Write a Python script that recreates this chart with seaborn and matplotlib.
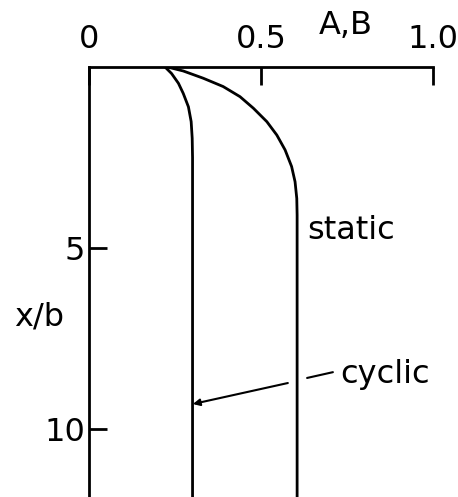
import matplotlib
matplotlib.use("Agg")
import matplotlib.pyplot as plt
import seaborn as sns
import pandas as pd

# Depth profiles of the coefficients A, B against normalised depth x/b
cyclic_depth = [0.0, 0.18, 0.45, 0.73, 1.10, 1.51, 1.97, 2.5, 12.0]
cyclic_ab = [0.221, 0.240, 0.260, 0.274, 0.289, 0.297, 0.300, 0.301, 0.301]

static_depth = [0.0, 0.11, 0.31, 0.54, 0.82, 1.14, 1.51, 1.88, 2.29, 2.75,
                3.17, 3.63, 4.09, 12.0]
static_ab = [0.228, 0.274, 0.332, 0.390, 0.439, 0.478, 0.517, 0.546, 0.570,
             0.589, 0.599, 0.604, 0.605, 0.605]

x_ticks = [0, 0.5, 1.0]
x_tick_labels = ["0", "0.5", "1.0"]
y_ticks = [5, 10]
y_tick_labels = ["5", "10"]

sns.set_theme(style="white")
plt.rcParams["font.family"] = ["DejaVu Sans"]
plt.rcParams["text.color"] = "black"

fig = plt.figure(figsize=(4.58, 4.97), dpi=100)
ax = fig.add_axes([89 / 458, 0.0, 344 / 458, 1 - 67 / 497])

df_c = pd.DataFrame({"ab": cyclic_ab, "depth": cyclic_depth})
df_s = pd.DataFrame({"ab": static_ab, "depth": static_depth})
sns.lineplot(data=df_c, x="ab", y="depth", sort=False, estimator=None,
             color="black", linewidth=2.0, ax=ax)
sns.lineplot(data=df_s, x="ab", y="depth", sort=False, estimator=None,
             color="black", linewidth=2.0, ax=ax)

ax.set_xlim(0, 1.0)
ax.set_ylim((497 - 67) / 36.2, 0)

for side in ("right", "bottom"):
    ax.spines[side].set_visible(False)
for side in ("top", "left"):
    ax.spines[side].set_color("black")
    ax.spines[side].set_linewidth(2.0)

ax.xaxis.tick_top()
ax.set_xticks(x_ticks)
ax.set_xticklabels(x_tick_labels)
ax.set_yticks(y_ticks)
ax.set_yticklabels(y_tick_labels)
ax.tick_params(axis="x", direction="in", length=13, width=2.0, pad=9,
               labelsize=23, colors="black", top=True, bottom=False)
ax.tick_params(axis="y", direction="in", length=13, width=2.0, pad=3,
               labelsize=23, colors="black", left=True)
ax.set_xlabel("")
ax.set_ylabel("")

ax.text(0.747, -1.16, "A,B", fontsize=23, ha="center", va="center",
        color="black", clip_on=False)
ax.text(-0.145, 6.9, "x/b", fontsize=23, ha="center", va="center",
        color="black", clip_on=False)
ax.text(0.634, 4.53, "static", fontsize=23, ha="left", va="center",
        color="black")
ax.text(0.730, 8.5, "cyclic", fontsize=23, ha="left", va="center",
        color="black")

# leader from the "cyclic" label, broken where it crosses the static line
ax.plot([0.709, 0.634], [8.43, 8.59], color="black", linewidth=1.5)
ax.annotate("", xy=(0.302, 9.31), xytext=(0.578, 8.73),
            arrowprops=dict(arrowstyle="-|>", color="black", lw=1.5,
                            mutation_scale=10, shrinkA=0, shrinkB=0))

fig.savefig("out.png", dpi=100)
